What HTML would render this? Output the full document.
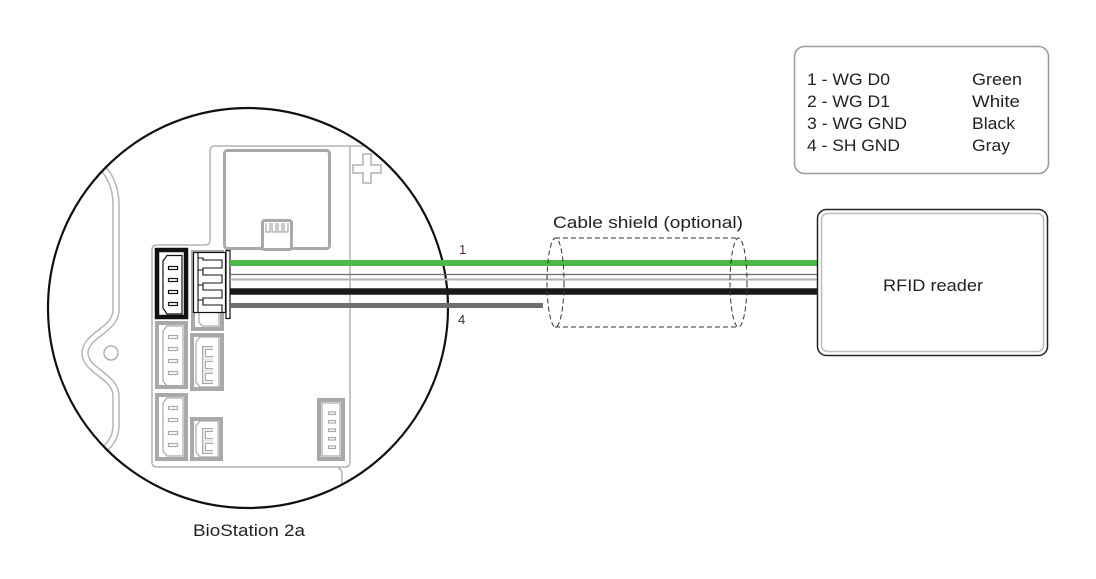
<!DOCTYPE html>
<html><head><meta charset="utf-8">
<style>
html,body{margin:0;padding:0;background:#fff;}
svg{display:block;}
text{font-family:"Liberation Sans",sans-serif;fill:#231f20;}
</style></head>
<body>
<svg width="1096" height="579" viewBox="0 0 1096 579" xmlns="http://www.w3.org/2000/svg">
<defs>
<clipPath id="cc"><circle cx="248" cy="308" r="199"/></clipPath>
</defs>
<rect width="1096" height="579" fill="#fff"/>

<g clip-path="url(#cc)">
  <!-- left housing double line -->
  <path d="M88,156 C108,168 116,185 116,205 V310 C116,330 85,335 85,353 C85,371 116,376 116,396 V425 C116,440 108,448 92,458" fill="none" stroke="#b5b5b5" stroke-width="7.5"/>
  <path d="M88,156 C108,168 116,185 116,205 V310 C116,330 85,335 85,353 C85,371 116,376 116,396 V425 C116,440 108,448 92,458" fill="none" stroke="#fff" stroke-width="4.5"/>
  <circle cx="111" cy="353" r="7" fill="none" stroke="#b0b0b0" stroke-width="1.5"/>

  <!-- board outline -->
  <path d="M460,146 H215 Q210,146 210,151 V240 Q210,245 205,245 H157 Q152,245 152,250 V462 Q152,467 157,467 H345 Q350,467 350,462 V146" fill="none" stroke="#b3b3b3" stroke-width="1.5"/>
  <path d="M338,468 Q342,469 342,474 V530" fill="none" stroke="#b3b3b3" stroke-width="1.5"/>

  <!-- plus -->
  <path d="M363,154 H371 V165 H381 V173 H371 V183 H363 V173 H353 V165 H363 Z" fill="#fff" stroke="#b0b0b0" stroke-width="1.5"/>

  <!-- module -->
  <rect x="224.5" y="150.5" width="105" height="98" rx="3" fill="#fff" stroke="#a7a9ac" stroke-width="3"/>
  <rect x="262.5" y="220.5" width="29" height="29" rx="2" fill="#fff" stroke="#a7a9ac" stroke-width="3"/>
  <g stroke="#a7a9ac" stroke-width="1.2" fill="none">
    <path d="M266,223 V232 H270 V223"/>
    <path d="M272,223 V232 H276 V223"/>
    <path d="M278,223 V232 H282 V223"/>
    <path d="M284,223 V232 H288 V223"/>
  </g>

  <!-- connector frames -->
  <rect x="157" y="323" width="29" height="64" fill="#fff" stroke="#a7a9ac" stroke-width="4"/>
  <rect x="157" y="395" width="29" height="64" fill="#fff" stroke="#a7a9ac" stroke-width="4"/>
  <rect x="193" y="252" width="29" height="77" fill="#fff" stroke="#a7a9ac" stroke-width="4"/>
  <rect x="192" y="335" width="30" height="54" fill="#fff" stroke="#a7a9ac" stroke-width="4"/>
  <rect x="192" y="419" width="29" height="40" fill="#fff" stroke="#a7a9ac" stroke-width="4"/>
  <rect x="319" y="400" width="24" height="59" fill="#fff" stroke="#a7a9ac" stroke-width="4"/>

  <!-- C2 inner -->
  <g fill="none" stroke="#a7a9ac" stroke-width="1.2">
    <path d="M163,331 L167,326 H183 V386 H167 L163,381 Z"/>
    <rect x="168.5" y="335.5" width="9" height="3"/>
    <rect x="168.5" y="347.5" width="9" height="3"/>
    <rect x="168.5" y="359.5" width="9" height="3"/>
    <rect x="168.5" y="371.5" width="9" height="3"/>
    <!-- C3 inner -->
    <path d="M163,403 L167,398 H183 V456 H167 L163,451 Z"/>
    <rect x="168.5" y="406.5" width="9" height="3"/>
    <rect x="168.5" y="418.5" width="9" height="3"/>
    <rect x="168.5" y="431.5" width="9" height="3"/>
    <rect x="168.5" y="443.5" width="9" height="3"/>
    <!-- C4 inner bottom -->
    <path d="M199,310 V322 L202,326 H219 V310"/>
    <!-- C5 inner -->
    <path d="M196,342 L200,337 H219 V387 H200 L196,382 Z"/>
    <!-- C6 inner -->
    <path d="M196,426 L200,421 H218 V457 H200 L196,452 Z"/>
    <!-- right connector inner -->
    <rect x="322" y="403" width="18" height="53"/>
    <rect x="328.5" y="412" width="7" height="2.5"/>
    <rect x="328.5" y="420.5" width="7" height="2.5"/>
    <rect x="328.5" y="429" width="7" height="2.5"/>
    <rect x="328.5" y="437.5" width="7" height="2.5"/>
    <rect x="328.5" y="446" width="7" height="2.5"/>
  </g>
  <!-- U pins -->
  <g fill="none" stroke="#a7a9ac" stroke-width="4">
    <path d="M213,348 H204 V358 H213"/>
    <path d="M213,360 H204 V370 H213"/>
    <path d="M213,372 H204 V382 H213"/>
    <path d="M213,430 H204 V440 H213"/>
    <path d="M213,442 H204 V452 H213"/>
  </g>
  <g fill="none" stroke="#fff" stroke-width="1.5">
    <path d="M214,348 H204 V358 H214"/>
    <path d="M214,360 H204 V370 H214"/>
    <path d="M214,372 H204 V382 H214"/>
    <path d="M214,430 H204 V440 H214"/>
    <path d="M214,442 H204 V452 H214"/>
  </g>

  <!-- C1 black -->
  <rect x="157" y="250" width="29" height="67" fill="#fff" stroke="#111" stroke-width="4.5"/>
  <g fill="none" stroke="#111" stroke-width="1.2">
    <path d="M163,261 L167,255.5 H182 V314 H167 L163,308 Z"/>
    <rect x="168.5" y="266.5" width="9" height="3"/>
    <rect x="168.5" y="278.5" width="9" height="3"/>
    <rect x="168.5" y="290.5" width="9" height="3"/>
    <rect x="168.5" y="302.5" width="9" height="3"/>
  </g>

  <!-- plug -->
  <rect x="193.5" y="252.5" width="32" height="60" fill="#fff" stroke="#111" stroke-width="1.2"/>
  <path d="M198,253 V258 H203 V260 H222 V268 H203 V275 H222 V283 H203 V290 H222 V298 H203 V305 H222 V312 M198,258 V270 H203 M198,270 V285 H203 M198,285 V300 H203 M198,300 V312" fill="none" stroke="#111" stroke-width="1.1"/>
</g>

<!-- circle -->
<circle cx="248" cy="308" r="200" fill="none" stroke="#111" stroke-width="2.2"/>

<!-- plug bar -->
<rect x="226" y="250.5" width="4" height="68" fill="#fff" stroke="#111" stroke-width="1.2"/>

<!-- wires -->
<line x1="230" y1="263" x2="818" y2="263" stroke="#4cb848" stroke-width="6"/>
<line x1="230" y1="274.5" x2="818" y2="274.5" stroke="#6d6d6d" stroke-width="1.2"/>
<line x1="230" y1="279.5" x2="818" y2="279.5" stroke="#b0b0b0" stroke-width="2"/>
<line x1="230" y1="291.5" x2="818" y2="291.5" stroke="#1a1a1a" stroke-width="6.5"/>
<line x1="230" y1="305.5" x2="543" y2="305.5" stroke="#6d6e71" stroke-width="5"/>

<!-- wire labels -->
<text x="459" y="254" font-size="13" style="fill:#5a2a20">1</text>
<text x="458" y="324" font-size="13" style="fill:#2a3040">4</text>

<!-- cable shield -->
<g fill="none" stroke="#333" stroke-width="1" stroke-dasharray="5,3">
  <ellipse cx="555.5" cy="282.5" rx="8.5" ry="44.5"/>
  <ellipse cx="738.5" cy="282.5" rx="8.5" ry="44.5"/>
  <line x1="555" y1="238" x2="738" y2="238"/>
  <line x1="555" y1="327" x2="738" y2="327"/>
</g>
<text x="553" y="228" font-size="17" textLength="190" lengthAdjust="spacingAndGlyphs">Cable shield (optional)</text>

<!-- RFID reader -->
<rect x="817.5" y="209.5" width="230" height="146" rx="9" fill="#fff" stroke="#222" stroke-width="1.5"/>
<rect x="821.5" y="213.5" width="222" height="138" rx="6" fill="none" stroke="#bdbdbd" stroke-width="1.5"/>
<text x="883" y="291" font-size="17" textLength="100" lengthAdjust="spacingAndGlyphs">RFID reader</text>

<!-- legend -->
<rect x="794.5" y="46.5" width="254" height="127" rx="10" fill="#fff" stroke="#9a9a9a" stroke-width="1.5"/>
<text x="807" y="85" font-size="17" textLength="83" lengthAdjust="spacingAndGlyphs">1 - WG D0</text>
<text x="807" y="107" font-size="17" textLength="83" lengthAdjust="spacingAndGlyphs">2 - WG D1</text>
<text x="807" y="129" font-size="17" textLength="100" lengthAdjust="spacingAndGlyphs">3 - WG GND</text>
<text x="807" y="151" font-size="17" textLength="93" lengthAdjust="spacingAndGlyphs">4 - SH GND</text>
<text x="972" y="85" font-size="17" textLength="50" lengthAdjust="spacingAndGlyphs">Green</text>
<text x="972" y="107" font-size="17" textLength="48" lengthAdjust="spacingAndGlyphs">White</text>
<text x="972" y="129" font-size="17" textLength="43" lengthAdjust="spacingAndGlyphs">Black</text>
<text x="972" y="151" font-size="17" textLength="38" lengthAdjust="spacingAndGlyphs">Gray</text>

<!-- caption -->
<text x="193" y="536" font-size="17" textLength="112" lengthAdjust="spacingAndGlyphs">BioStation 2a</text>
</svg>
</body></html>
